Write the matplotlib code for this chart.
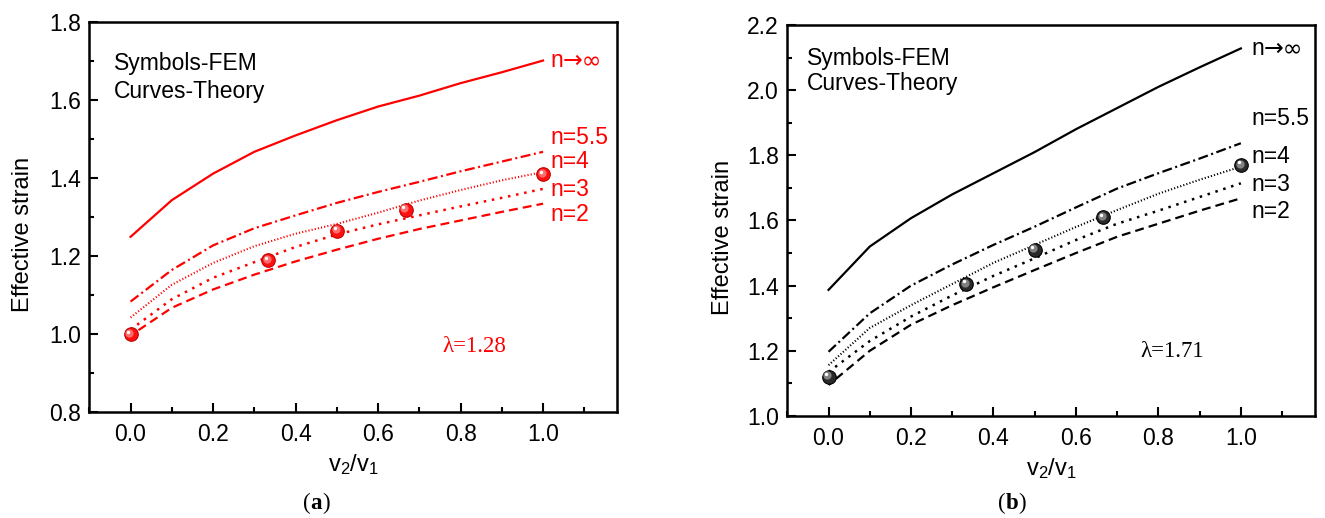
import numpy as np
import matplotlib
matplotlib.use("Agg")
import matplotlib.pyplot as plt
from matplotlib.transforms import offset_copy
from matplotlib.ticker import MultipleLocator
from matplotlib.offsetbox import TextArea, HPacker, AnnotationBbox

plt.rcParams['font.family'] = ['Liberation Sans', 'DejaVu Sans']
plt.rcParams['mathtext.fontset'] = 'custom'
plt.rcParams['mathtext.rm'] = 'Liberation Sans'
plt.rcParams['mathtext.it'] = 'Liberation Sans:italic'

# theory curves sampled at v2/v1 = 0, 0.1, ..., 1.0
ratio = [0.0, 0.1, 0.2, 0.3, 0.4, 0.5, 0.6, 0.7, 0.8, 0.9, 1.0]

a_inf = [1.250, 1.344, 1.412, 1.468, 1.510, 1.549, 1.584, 1.612, 1.644, 1.672, 1.702]
a_n55 = [1.084, 1.165, 1.228, 1.272, 1.305, 1.337, 1.365, 1.391, 1.418, 1.443, 1.468]
a_n4 = [1.043, 1.127, 1.183, 1.226, 1.258, 1.283, 1.312, 1.343, 1.370, 1.395, 1.416]
a_n3 = [1.012, 1.090, 1.145, 1.185, 1.224, 1.256, 1.282, 1.305, 1.328, 1.350, 1.373]
a_n2 = [0.997, 1.068, 1.115, 1.153, 1.187, 1.217, 1.245, 1.270, 1.292, 1.314, 1.335]

b_inf = [1.387, 1.520, 1.607, 1.680, 1.745, 1.810, 1.880, 1.945, 2.010, 2.070, 2.128]
b_n55 = [1.197, 1.315, 1.400, 1.465, 1.525, 1.581, 1.640, 1.698, 1.745, 1.790, 1.837]
b_n4 = [1.156, 1.270, 1.340, 1.405, 1.470, 1.525, 1.580, 1.632, 1.682, 1.725, 1.765]
b_n3 = [1.135, 1.230, 1.305, 1.370, 1.430, 1.484, 1.540, 1.590, 1.630, 1.672, 1.714]
b_n2 = [1.095, 1.200, 1.280, 1.340, 1.395, 1.448, 1.500, 1.550, 1.590, 1.630, 1.668]

# FEM results
fem_x = [0.0, 1 / 3, 0.5, 2 / 3, 1.0]
fem_a = [1.000, 1.190, 1.266, 1.320, 1.410]
fem_b = [1.120, 1.405, 1.510, 1.610, 1.770]

curve_labels = ['n=5.5', 'n=4', 'n=3', 'n=2']

styles = [
    dict(ls='-', lw=1.6),
    dict(ls=(0, (4.5, 1.6, 0.9, 1.6)), lw=1.6),
    dict(ls=(0, (0.55, 1.0)), lw=1.5),
    dict(ls=(0, (1.0, 2.3)), lw=1.8),
    dict(ls=(2, (4.0, 2.3)), lw=1.6),
]


def draw_balls(ax, x, y, base, edge, shine):
    ax.scatter(x, y, s=95, color=base, edgecolors=edge, linewidths=0.8, zorder=5)
    t1 = offset_copy(ax.transData, fig=ax.figure, x=-0.9, y=1.0, units='points')
    ax.scatter(x, y, s=35, color=shine, alpha=0.5, linewidths=0, zorder=6, transform=t1)
    t2 = offset_copy(ax.transData, fig=ax.figure, x=-1.6, y=1.9, units='points')
    ax.scatter(x, y, s=6, color='white', linewidths=0, zorder=7, transform=t2)


def limit_label(ax, x, y, color):
    # "n" in the sans face, arrow and infinity from DejaVu
    parts = [TextArea('n', textprops=dict(color=color, fontsize=16.5, family='Liberation Sans')),
             TextArea('\u2192\u221e', textprops=dict(color=color, fontsize=17, family='DejaVu Sans'))]
    box = HPacker(children=parts, align='baseline', pad=0, sep=0)
    ab = AnnotationBbox(box, (x, y), xycoords='data', box_alignment=(0, 0.5),
                        frameon=False, pad=0)
    ax.add_artist(ab)


def draw_panel(ax, curves, fem, color, ylim, inf_y, label_x, label_y, lam_x, lam_y,
               lam_txt, note_x, note_y, base, edge, shine, ylab_x):
    for ys, st in zip(curves, styles):
        ax.plot(ratio, ys, color=color, **st)
    draw_balls(ax, fem_x, fem, base, edge, shine)

    limit_label(ax, label_x, inf_y, color)
    for txt, ly in zip(curve_labels, label_y):
        ax.text(label_x, ly, txt, color=color, fontsize=16.5, va='center', ha='left')

    ax.text(note_x, note_y[0], 'Symbols-FEM', fontsize=16.5, va='center')
    ax.text(note_x, note_y[1], 'Curves-Theory', fontsize=16.5, va='center')
    ax.text(lam_x, lam_y, '\u03bb=' + lam_txt, color=color, fontsize=16.5,
            family='Liberation Serif', va='center')

    ax.set_xlim(-0.1, 1.18)
    ax.set_ylim(*ylim)
    ax.xaxis.set_major_locator(MultipleLocator(0.2))
    ax.xaxis.set_minor_locator(MultipleLocator(0.1))
    ax.yaxis.set_major_locator(MultipleLocator(0.2))
    ax.yaxis.set_minor_locator(MultipleLocator(0.1))
    ax.xaxis.set_major_formatter(lambda v, p: f'{v:.1f}')
    ax.yaxis.set_major_formatter(lambda v, p: f'{v:.1f}')
    ax.tick_params(which='both', direction='in', width=1.5, labelsize=16.5,
                   top=False, right=False)
    ax.tick_params(which='major', length=6.5)
    ax.tick_params(axis='y', which='major', pad=6)
    ax.tick_params(axis='x', which='major', pad=8)
    ax.tick_params(which='minor', length=3.5)
    for sp in ax.spines.values():
        sp.set_linewidth(1.8)
    ax.set_xlabel(r'$\mathregular{v_2/v_1}$', fontsize=17)
    ax.xaxis.set_label_coords(0.5, -0.103)
    ax.set_ylabel('Effective strain', fontsize=17)
    ax.yaxis.set_label_coords(ylab_x, 0.457)


fig = plt.figure(figsize=(13.25, 5.18), dpi=100)
ax1 = fig.add_axes([0.0674, 0.204, 0.3985, 0.7529])
ax2 = fig.add_axes([0.5942, 0.197, 0.3983, 0.7548])

draw_panel(ax1, [a_inf, a_n55, a_n4, a_n3, a_n2], fem_a, '#ff0000', (0.8, 1.8),
           1.703, 1.017, [1.505, 1.443, 1.372, 1.306], 0.757, 0.968, '1.28',
           -0.04, (1.695, 1.622), '#ff1010', '#c00000', '#ffc8c8', -0.104)
draw_panel(ax2, [b_inf, b_n55, b_n4, b_n3, b_n2], fem_b, 'black', (1.0, 2.2),
           2.128, 1.025, [1.914, 1.796, 1.709, 1.627], 0.756, 1.197, '1.71',
           -0.052, (2.098, 2.021), '#2a2a2a', '#000000', '#d8d8d8', -0.101)


def caption(xc, letter):
    parts = [TextArea('(', textprops=dict(fontsize=16.5, family='Liberation Serif')),
             TextArea(letter, textprops=dict(fontsize=16.5, family='Liberation Serif',
                                             weight='bold')),
             TextArea(')', textprops=dict(fontsize=16.5, family='Liberation Serif'))]
    box = HPacker(children=parts, align='baseline', pad=0, sep=0)
    fig.add_artist(AnnotationBbox(box, (xc, 0.029), xycoords='figure fraction',
                                  box_alignment=(0.5, 0.5), frameon=False, pad=0))


caption(0.2385, 'a')
caption(0.764, 'b')

fig.savefig('out.png', dpi=100)
